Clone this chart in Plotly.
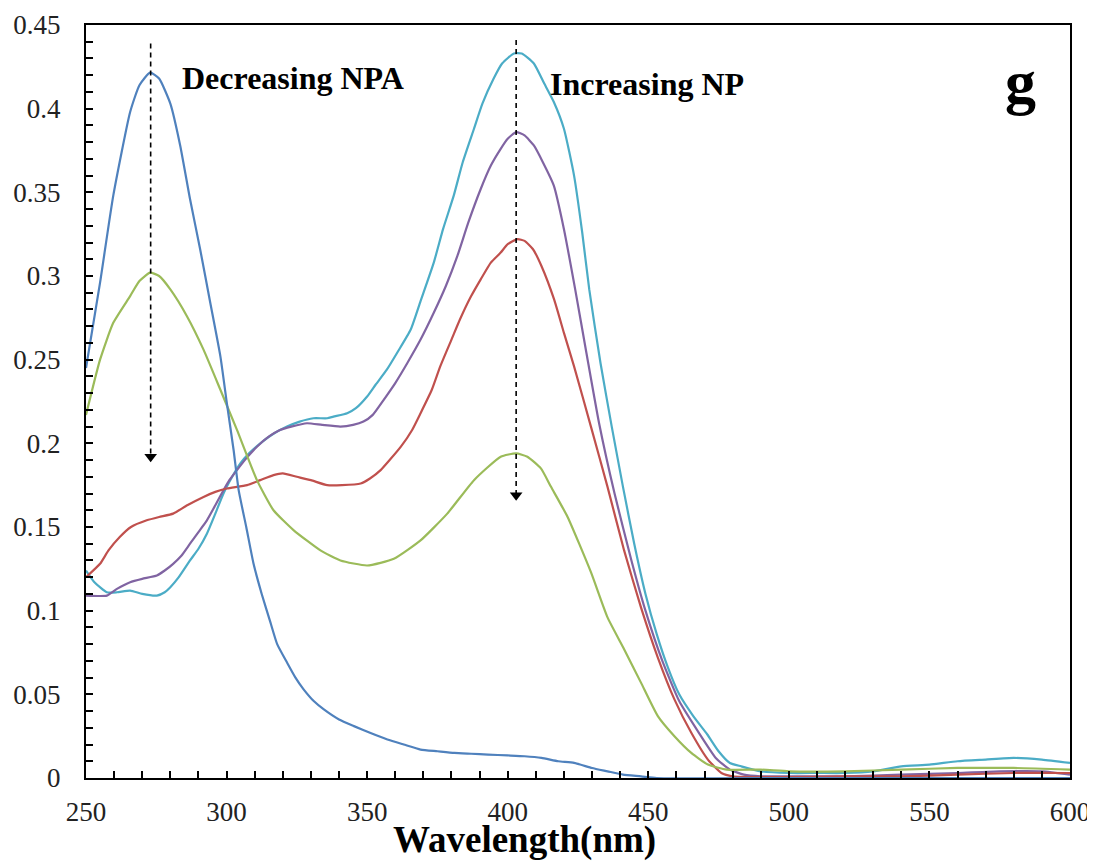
import plotly.graph_objects as go

# ---- data ----
wl_blue = [250, 255, 259.7, 265.7, 269, 272.8, 276, 280, 283.5, 287, 290.6, 294.2, 297.8, 300.1,
           302.5, 304.3, 307, 309.6, 312.5, 315.6, 318, 321.5, 324.5, 327.4, 331, 334.6, 340,
           345.3, 351, 357.2, 363, 369, 375, 381, 387, 393, 400, 406, 412, 418, 423.6, 430,
           435.5, 441, 447.4, 453, 500, 550, 600]
abs_blue = [0.245, 0.296, 0.348, 0.398, 0.414, 0.4215, 0.418, 0.403, 0.378, 0.346, 0.316, 0.284,
            0.252, 0.224, 0.196, 0.172, 0.150, 0.128, 0.110, 0.093, 0.080, 0.069, 0.060, 0.053,
            0.046, 0.041, 0.035, 0.031, 0.027, 0.023, 0.020, 0.017, 0.016, 0.015, 0.0145, 0.014,
            0.0135, 0.013, 0.012, 0.010, 0.009, 0.006, 0.004, 0.002, 0.001, 0.0, 0.0, 0.0, 0.0]

wl_green = [250, 255, 259.7, 265.7, 269, 272.8, 276, 280, 285.9, 291.8, 297.8, 303.7, 310.8,
            316.7, 323.9, 333.4, 340.5, 350, 359.5, 369, 378.5, 388, 397.5, 403, 407, 411.8,
            415.4, 421.3, 429.6, 435.5, 441.4, 447.4, 453.4, 459.3, 465.3, 471.2, 478, 490, 500,
            520, 540, 560, 580, 600]
abs_green = [0.217, 0.250, 0.272, 0.288, 0.297, 0.302, 0.300, 0.292, 0.276, 0.256, 0.232, 0.208,
             0.178, 0.160, 0.148, 0.136, 0.130, 0.127, 0.131, 0.142, 0.158, 0.178, 0.192, 0.194,
             0.192, 0.185, 0.174, 0.156, 0.123, 0.096, 0.077, 0.057, 0.037, 0.025, 0.015, 0.008,
             0.005, 0.005, 0.004, 0.004, 0.005, 0.006, 0.006, 0.005]

wl_red = [250, 255, 258, 262, 266, 271.6, 276, 281, 286, 291.8, 296, 300.1, 307.3, 312, 316.7,
          320, 325, 330, 335.8, 341, 347.7, 351, 354.8, 358, 362, 366, 369, 373, 376, 380, 383,
          387, 390.4, 394, 397.5, 400, 403.5, 406, 409, 412, 416.5, 420, 423.6, 429.6, 435.5,
          441.4, 447.4, 453.4, 459.3, 465.3, 471.2, 476, 480, 500, 520, 540, 560, 580, 600]
abs_red = [0.120, 0.128, 0.136, 0.144, 0.150, 0.154, 0.156, 0.158, 0.163, 0.168, 0.171, 0.173,
           0.175, 0.178, 0.181, 0.182, 0.180, 0.178, 0.175, 0.175, 0.176, 0.179, 0.184, 0.190,
           0.198, 0.208, 0.218, 0.232, 0.246, 0.262, 0.274, 0.288, 0.298, 0.308, 0.314, 0.319,
           0.322, 0.321, 0.316, 0.306, 0.286, 0.266, 0.246, 0.210, 0.174, 0.136, 0.102, 0.072,
           0.047, 0.027, 0.011, 0.003, 0.001, 0.0005, 0.001, 0.001, 0.002, 0.003, 0.003]

wl_purple = [250, 257.4, 261, 265.7, 270, 275.2, 278, 281, 284, 287, 290, 293, 296, 298.9, 301,
             303.7, 307, 310.8, 315, 319, 323, 328.6, 334, 340.5, 345, 348.7, 352, 355.9, 360,
             364.3, 369, 373.7, 378, 382.1, 386, 390.4, 394, 397.5, 400, 403, 406, 409.3, 412.5,
             416.4, 420, 424, 428, 432.5, 438, 444, 449, 455, 461, 468, 474, 479, 484, 490, 500,
             520, 540, 560, 575, 590, 600]
abs_purple = [0.109, 0.109, 0.113, 0.117, 0.119, 0.121, 0.124, 0.128, 0.133, 0.140, 0.147, 0.154,
              0.163, 0.172, 0.178, 0.184, 0.191, 0.198, 0.204, 0.208, 0.210, 0.212, 0.211, 0.210,
              0.211, 0.213, 0.217, 0.226, 0.236, 0.248, 0.262, 0.278, 0.294, 0.312, 0.332, 0.352,
              0.366, 0.376, 0.382, 0.386, 0.384, 0.378, 0.368, 0.354, 0.328, 0.292, 0.254, 0.212,
              0.170, 0.130, 0.100, 0.070, 0.046, 0.027, 0.012, 0.005, 0.002, 0.001, 0.001, 0.001,
              0.002, 0.003, 0.004, 0.004, 0.002]

wl_cyan = [250, 253, 257.4, 261, 265.7, 270, 275.2, 278, 280, 283, 287, 290, 293, 296, 298.9, 302,
           304.9, 308, 312, 316, 321.5, 326, 330.9, 335.8, 338, 342.9, 346, 350, 353, 357, 361,
           365.5, 369, 373.7, 377, 380.8, 384, 388, 391, 395, 398, 402.2, 405, 409.3, 413, 416.4,
           420, 423.6, 426.5, 429, 433, 437, 441, 445, 449, 453, 457, 461, 466, 471, 475, 479,
           483, 490, 500, 510, 520, 530, 540, 550, 560, 570, 580, 590, 600]
abs_cyan = [0.124, 0.117, 0.111, 0.111, 0.112, 0.110, 0.109, 0.111, 0.114, 0.120, 0.130, 0.137,
            0.146, 0.158, 0.170, 0.180, 0.188, 0.194, 0.200, 0.205, 0.210, 0.213, 0.215, 0.215,
            0.216, 0.218, 0.221, 0.228, 0.235, 0.244, 0.255, 0.268, 0.285, 0.308, 0.328, 0.348,
            0.368, 0.388, 0.403, 0.418, 0.427, 0.433, 0.433, 0.427, 0.415, 0.404, 0.388, 0.360,
            0.326, 0.292, 0.248, 0.210, 0.174, 0.140, 0.110, 0.086, 0.066, 0.050, 0.037, 0.026,
            0.016, 0.009, 0.007, 0.004, 0.003, 0.003, 0.003, 0.004, 0.007, 0.008, 0.010, 0.011,
            0.012, 0.011, 0.009]

series = [
    ("cyan", wl_cyan, abs_cyan, "#4BACC6"),
    ("purple", wl_purple, abs_purple, "#8064A2"),
    ("red", wl_red, abs_red, "#C0504D"),
    ("green", wl_green, abs_green, "#9BBB59"),
    ("blue", wl_blue, abs_blue, "#4F81BD"),
]

# guide arrows (dashed): wavelength, top value, tip value
arrow_wl = [273, 403]
arrow_top = [0.439, 0.441]
arrow_tip = [0.192, 0.169]

labels = ["Decreasing NPA", "Increasing NP"]
label_wl = [283.6, 414.5]
label_val = [0.4185, 0.415]

SERIF = "Liberation Serif, Times New Roman, serif"

fig = go.Figure()
for name, x, y, c in series:
    fig.add_trace(go.Scatter(x=x, y=y, mode="lines", name=name,
                             line=dict(color=c, width=2.2, shape="spline", smoothing=0.5)))

for w, t, b in zip(arrow_wl, arrow_top, arrow_tip):
    fig.add_trace(go.Scatter(x=[w, w], y=[t, b], mode="lines",
                             line=dict(color="black", width=1.6, dash="5px,4px")))
    fig.add_trace(go.Scatter(x=[w], y=[b], mode="markers",
                             marker=dict(symbol="triangle-down", size=11, color="black")))

for txt, x, y in zip(labels, label_wl, label_val):
    fig.add_annotation(x=x, y=y, xref="x", yref="y", text="<b>" + txt + "</b>",
                       showarrow=False, xanchor="left", yanchor="middle",
                       font=dict(family=SERIF, size=32, color="black"))

fig.add_annotation(x=582.4, y=0.416, xref="x", yref="y", text="<b>g</b>", showarrow=False,
                   xanchor="center", yanchor="middle",
                   font=dict(family=SERIF, size=62, color="black"))

fig.add_annotation(x=406, y=-0.083, xref="x", yref="paper", text="<b>Wavelength(nm)</b>",
                   showarrow=False, xanchor="center", yanchor="middle",
                   font=dict(family=SERIF, size=37, color="black"))

axis_common = dict(
    showline=True, linecolor="black", linewidth=2, mirror=True,
    ticks="inside", ticklen=7, tickwidth=1.5, tickcolor="black",
    showgrid=False, zeroline=False, automargin=False,
    tickfont=dict(family=SERIF, size=27, color="#222"),
)

fig.update_xaxes(range=[250, 600], dtick=50, tick0=250,
                 minor=dict(ticks="inside", dtick=10, ticklen=7, tickwidth=1.5,
                            tickcolor="black", showgrid=False),
                 ticklabelstandoff=9, **axis_common)
fig.update_yaxes(range=[0, 0.45], dtick=0.05, tick0=0,
                 minor=dict(ticks="inside", dtick=0.01, ticklen=7, tickwidth=1.5,
                            tickcolor="black", showgrid=False),
                 ticklabelstandoff=18, **axis_common)

# the page body adds an 8px offset; plot area placed to match the reference
fig.update_layout(
    width=1095, height=856,
    margin=dict(l=78, r=33, t=17, b=86),
    plot_bgcolor="white", paper_bgcolor="white",
    showlegend=False,
)

fig.write_html("out.html")
